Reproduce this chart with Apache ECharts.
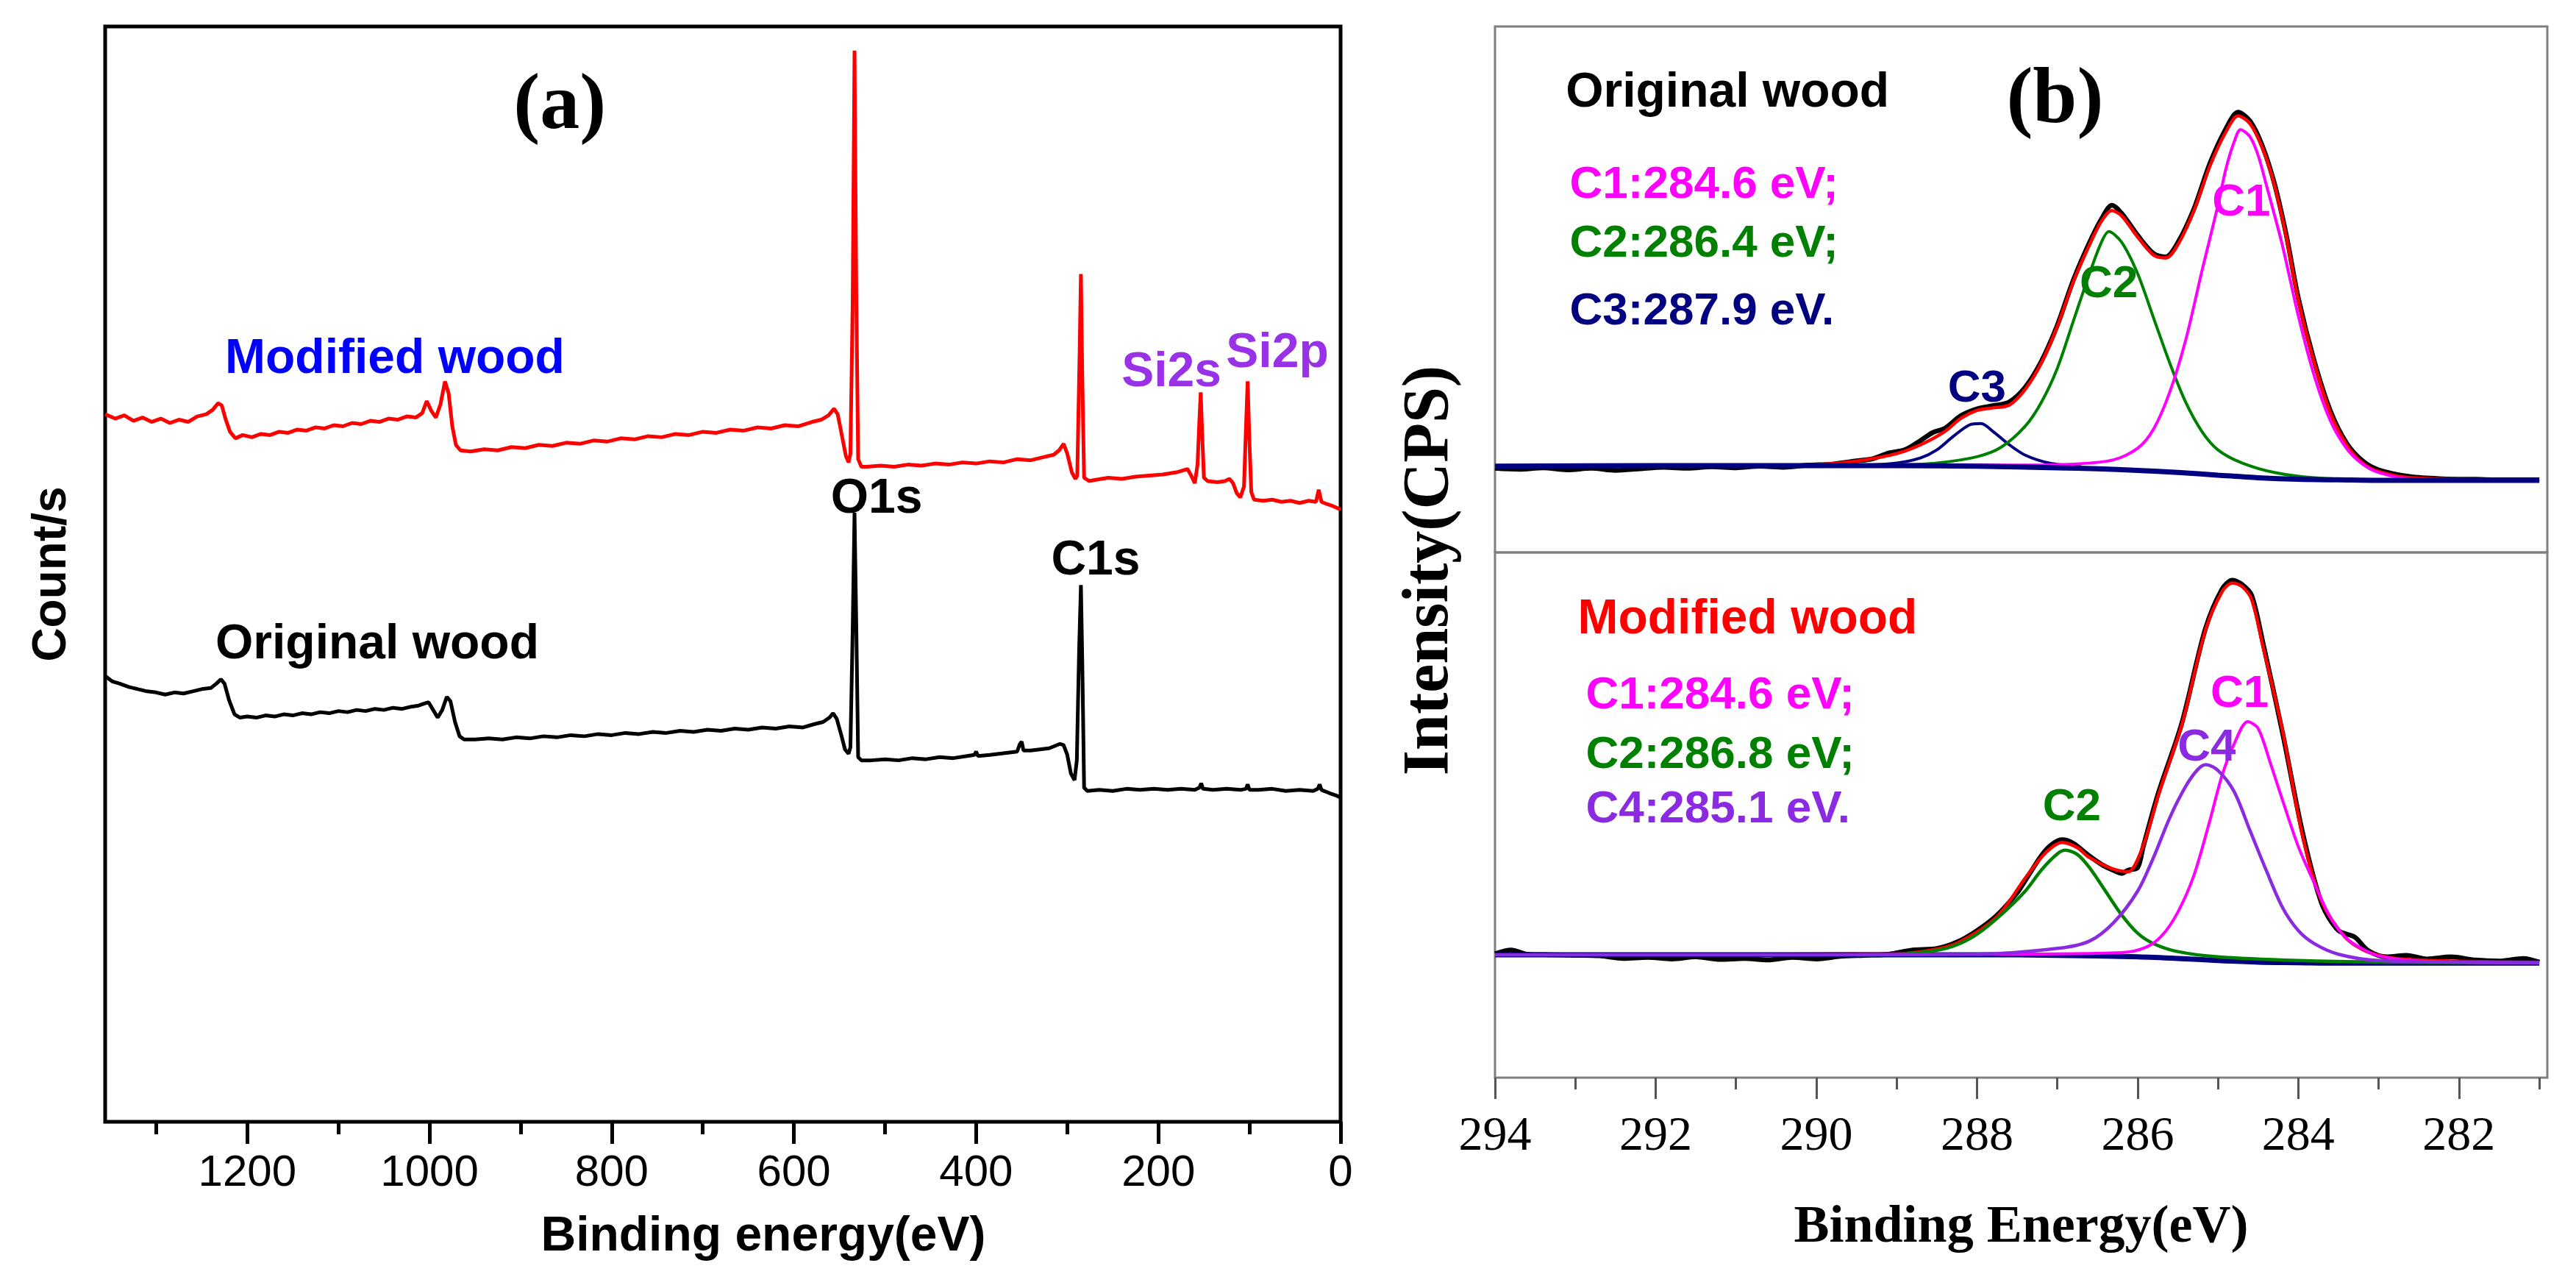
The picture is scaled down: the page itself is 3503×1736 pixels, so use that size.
<!DOCTYPE html>
<html>
<head>
<meta charset="utf-8">
<script src="https://cdn.jsdelivr.net/npm/echarts@6/dist/echarts.min.js"></script>
<style>
html,body{margin:0;padding:0;background:#fff;}
#chart{width:3503px;height:1736px;}
</style>
</head>
<body>
<div id="chart"></div>
<script>
// ---------------- DATA ----------------
// Panel (a): XPS survey spectra, [binding energy (eV), counts (a.u.)]
const surveyModified = [
[1356,64.6],[1345,64.2],[1335,64.5],[1325,64.0],[1315,64.3],[1305,63.9],[1295,64.2],[1285,63.8],[1275,64.1],[1265,63.9],[1255,64.4],[1245,64.6],[1238,65.0],[1232,65.6],[1228,65.4],[1224,64.2],[1219,63.0],[1213,62.4],[1205,62.7],[1195,62.5],[1185,62.8],[1175,62.7],[1165,63.0],[1155,62.9],[1145,63.2],[1135,63.1],[1125,63.4],[1115,63.3],[1105,63.6],[1095,63.5],[1085,63.8],[1075,63.7],[1065,64.0],[1055,63.9],[1045,64.2],[1035,64.1],[1025,64.4],[1015,64.3],[1008,64.7],[1003,65.8],[998,64.9],[993,64.3],[988,65.5],[983,67.6],[979,66.5],[975,63.5],[971,61.8],[966,61.3],[955,61.2],[940,61.4],[925,61.3],[910,61.6],[895,61.5],[880,61.8],[865,61.7],[850,62.0],[835,61.9],[820,62.2],[805,62.1],[790,62.4],[775,62.3],[760,62.6],[745,62.5],[730,62.8],[715,62.7],[700,63.0],[685,62.9],[670,63.2],[655,63.1],[640,63.4],[625,63.3],[610,63.6],[595,63.5],[580,63.9],[570,64.1],[562,64.5],[556,65.1],[552,64.6],[547,62.5],[543,60.8],[540,60.2],[538,61.0],[535.5,75.0],[533.5,97.8],[531.5,75.0],[529.5,60.5],[526,59.8],[520,59.8],[505,59.9],[490,59.8],[475,60.0],[460,59.9],[445,60.1],[430,60.0],[415,60.2],[400,60.1],[385,60.3],[370,60.2],[355,60.5],[340,60.4],[325,60.7],[315,60.9],[309,61.3],[304,61.9],[300,61.0],[295,59.3],[291,58.7],[289,59.0],[286.5,70.0],[285,77.4],[283.5,68.0],[281.5,58.8],[276,58.5],[270,58.6],[255,58.8],[240,58.7],[225,58.9],[210,59.0],[195,59.1],[180,59.3],[172,59.5],[168,59.6],[164,59.0],[160,58.3],[157,60.0],[155,64.0],[153.5,66.6],[152,63.0],[150,58.8],[146,58.5],[135,58.4],[127,58.5],[122,58.7],[118,58.3],[114,57.4],[110,57.0],[106,58.0],[104,63.0],[102,67.6],[100,62.0],[98,57.5],[95,56.8],[85,56.7],[75,56.8],[65,56.6],[55,56.7],[45,56.5],[35,56.7],[27,56.6],[24,57.7],[21,56.6],[15,56.4],[8,56.2],[0,55.9]
];
const surveyOriginal = [
[1356,40.7],[1348,40.2],[1340,40.0],[1330,39.7],[1320,39.5],[1310,39.3],[1300,39.2],[1290,39.0],[1280,39.2],[1270,39.1],[1260,39.3],[1250,39.5],[1240,39.6],[1234,40.0],[1229,40.4],[1225,40.0],[1220,38.5],[1214,37.2],[1208,36.9],[1200,37.0],[1190,36.9],[1180,37.1],[1170,37.0],[1160,37.2],[1150,37.1],[1140,37.3],[1130,37.2],[1120,37.4],[1110,37.3],[1100,37.5],[1090,37.4],[1080,37.6],[1070,37.5],[1060,37.7],[1050,37.6],[1040,37.8],[1030,37.7],[1020,37.9],[1012,38.0],[1005,38.2],[1001,38.3],[996,37.6],[991,36.9],[986,37.6],[981,38.8],[977,38.4],[972,36.5],[967,35.2],[962,34.9],[950,34.9],[935,35.0],[920,34.9],[905,35.1],[890,35.0],[875,35.2],[860,35.1],[845,35.3],[830,35.2],[815,35.4],[800,35.3],[785,35.5],[770,35.4],[755,35.6],[740,35.5],[725,35.7],[710,35.6],[695,35.8],[680,35.7],[665,35.9],[650,35.8],[635,36.0],[620,35.9],[605,36.1],[590,36.0],[578,36.3],[568,36.5],[561,36.9],[557,37.3],[553,36.8],[548,35.3],[544,34.0],[540,33.6],[538,34.2],[535.5,45.0],[533.5,55.6],[531.5,45.0],[529.5,33.3],[526,33.0],[515,33.0],[500,33.1],[485,33.0],[470,33.2],[455,33.1],[440,33.3],[425,33.2],[410,33.4],[402,33.5],[400,33.8],[398,33.4],[385,33.5],[375,33.6],[365,33.7],[355,33.8],[352,34.5],[350,34.7],[348,33.9],[340,33.9],[330,34.0],[320,34.1],[314,34.3],[308,34.5],[304,34.4],[300,33.5],[296,31.8],[292,31.2],[289.5,33.0],[287,43.0],[285,49.0],[283.5,42.0],[281.5,30.5],[278,30.2],[265,30.3],[250,30.2],[235,30.4],[220,30.3],[205,30.4],[190,30.3],[175,30.4],[160,30.3],[155,30.5],[153,30.9],[151,30.4],[140,30.3],[125,30.4],[110,30.3],[104,30.4],[102,30.8],[100,30.3],[90,30.3],[75,30.4],[60,30.2],[45,30.3],[30,30.2],[25,30.4],[23,30.8],[21,30.3],[12,30.0],[5,29.8],[0,29.6]
];
const surveyMajorTicks = [0,200,400,600,800,1000,1200];
const surveyMinorTicks = [100,300,500,700,900,1100,1300];

// Panel (b), top: C1s high resolution, original wood
const origRaw = [
[294,16.0],[293.7,15.8],[293.4,16.1],[293.1,15.7],[292.8,16.0],[292.5,15.6],[292.2,15.9],[291.9,16.2],[291.6,16.0],[291.3,16.3],[291.0,16.1],[290.7,16.4],[290.4,16.2],[290.1,16.6],[289.8,16.8],[289.5,17.4],[289.3,17.8],[289.1,18.9],[288.9,19.5],[288.7,21.3],[288.55,22.8],[288.4,23.6],[288.2,26.0],[288.0,27.3],[287.8,27.9],[287.6,28.6],[287.4,31.4],[287.2,36.3],[287.0,43.2],[286.8,51.8],[286.6,58.9],[286.45,63.4],[286.32,66.0],[286.2,64.5],[286.0,60.3],[285.8,56.8],[285.65,56.2],[285.5,58.9],[285.3,65.3],[285.1,74.0],[284.9,80.6],[284.75,83.7],[284.6,82.0],[284.45,77.4],[284.3,70.3],[284.15,60.4],[284.0,48.4],[283.8,36.3],[283.6,26.9],[283.4,20.8],[283.2,17.4],[283.0,15.7],[282.6,14.4],[282.2,14.0],[281.8,13.9],[281.4,13.8],[281.0,13.8]
];
const origFit = [
[294,16.4],[290.5,16.5],[289.8,16.9],[289.4,17.6],[289.0,18.8],[288.7,20.5],[288.4,23.0],[288.2,25.5],[288.0,27.0],[287.8,27.5],[287.6,28.0],[287.4,31.0],[287.2,36.0],[287.0,43.0],[286.8,51.5],[286.6,58.5],[286.45,63.0],[286.32,65.0],[286.2,64.0],[286.0,60.0],[285.8,56.5],[285.65,56.0],[285.5,58.5],[285.3,65.0],[285.1,73.5],[284.9,80.0],[284.75,83.0],[284.6,81.5],[284.45,77.0],[284.3,70.0],[284.15,60.0],[284.0,48.0],[283.8,36.0],[283.6,26.5],[283.4,20.5],[283.2,17.0],[283.0,15.4],[282.6,14.2],[281.0,13.8]
];
const origC1 = [
[289.0,16.7],[287.5,16.6],[286.8,16.8],[286.3,17.6],[286.0,19.8],[285.8,23.5],[285.6,30.5],[285.4,40.5],[285.2,53.5],[285.0,66.0],[284.9,73.0],[284.8,78.0],[284.72,80.4],[284.6,79.0],[284.5,75.5],[284.4,70.0],[284.2,58.5],[284.0,45.0],[283.8,33.5],[283.6,25.0],[283.4,19.8],[283.2,16.8],[283.0,15.2],[282.6,14.0],[281.0,13.7]
];
const origC2 = [
[289.0,16.6],[288.5,17.0],[288.0,18.2],[287.7,20.0],[287.4,24.0],[287.2,28.5],[287.0,35.0],[286.8,44.0],[286.6,53.0],[286.45,59.0],[286.36,61.0],[286.2,59.0],[286.0,53.0],[285.8,44.5],[285.6,36.0],[285.4,28.5],[285.2,23.0],[285.0,19.5],[284.7,17.0],[284.3,15.2],[283.8,14.2],[283.0,13.8],[281.0,13.7]
];
const origC3 = [
[289.5,16.5],[289.0,17.0],[288.7,18.0],[288.5,19.5],[288.3,22.0],[288.1,24.2],[287.95,24.5],[287.8,23.0],[287.6,20.5],[287.4,18.5],[287.1,17.0],[286.7,16.3]
];
const origBg = [
[294,16.4],[292,16.5],[290,16.5],[289,16.5],[288,16.4],[287,16.1],[286.5,15.9],[286,15.6],[285.5,15.2],[285,14.7],[284.5,14.2],[284,13.9],[283.5,13.8],[283,13.7],[281,13.7]
];

// Panel (b), bottom: C1s high resolution, modified wood
const modRaw = [
[294,23.6],[293.8,24.3],[293.6,23.5],[293.3,23.4],[293.0,23.3],[292.7,23.2],[292.4,22.7],[292.1,22.9],[291.8,22.6],[291.5,23.0],[291.2,22.5],[290.9,22.7],[290.6,22.4],[290.3,22.9],[290.0,22.6],[289.7,23.1],[289.4,23.3],[289.1,23.5],[288.8,24.3],[288.5,24.6],[288.25,25.8],[288.0,28.0],[287.76,30.8],[287.5,35.2],[287.38,38.0],[287.14,43.4],[286.94,45.3],[286.8,44.6],[286.61,42.3],[286.45,40.6],[286.32,39.6],[286.2,38.9],[286.12,39.5],[286.0,40.0],[285.93,44.0],[285.74,54.3],[285.45,67.5],[285.16,85.3],[284.95,93.0],[284.82,94.7],[284.7,93.9],[284.58,91.8],[284.44,82.8],[284.19,65.2],[283.95,46.9],[283.71,33.2],[283.5,28.0],[283.3,26.8],[283.13,24.2],[282.9,23.0],[282.65,23.3],[282.4,22.6],[282.1,23.0],[281.8,22.4],[281.5,22.2],[281.2,22.7],[281.0,22.0]
];
const modFit = [
[294,23.4],[289.0,23.6],[288.6,24.2],[288.25,25.6],[287.76,30.5],[287.38,38.4],[287.14,42.9],[286.94,44.8],[286.75,43.8],[286.61,42.0],[286.32,39.8],[286.12,39.2],[285.93,44.2],[285.74,53.9],[285.45,67.2],[285.16,85.0],[284.95,92.5],[284.82,94.2],[284.7,93.5],[284.58,91.0],[284.44,82.1],[284.19,65.6],[283.95,46.2],[283.71,33.6],[283.42,26.8],[283.13,23.9],[282.65,22.5],[281.0,22.0]
];
const modC1 = [
[288.0,23.5],[286.2,23.8],[285.9,24.8],[285.7,27.0],[285.5,31.5],[285.3,38.5],[285.1,49.0],[284.95,57.5],[284.8,63.5],[284.63,67.8],[284.5,66.5],[284.35,60.0],[284.2,53.0],[284.0,44.0],[283.8,37.0],[283.6,30.5],[283.4,26.5],[283.2,24.5],[283.0,23.2],[282.5,22.2],[281.0,21.9]
];
const modC2 = [
[289.5,23.4],[289.0,23.5],[288.6,24.0],[288.3,25.0],[288.0,27.3],[287.7,31.0],[287.4,35.5],[287.2,39.5],[287.0,42.6],[286.9,43.3],[286.75,42.5],[286.6,40.0],[286.4,35.5],[286.2,31.0],[286.0,27.5],[285.8,25.5],[285.5,24.0],[285.0,23.0],[284.0,22.3],[283.0,22.0],[281.0,21.9]
];
const modC4 = [
[294,23.4],[290,23.4],[288.0,23.5],[287.0,24.6],[286.6,26.0],[286.3,29.5],[286.0,35.5],[285.8,42.0],[285.6,49.5],[285.4,55.5],[285.25,58.7],[285.15,59.6],[285.0,58.5],[284.8,54.5],[284.6,47.0],[284.4,39.5],[284.2,32.5],[284.0,28.0],[283.8,25.5],[283.5,23.5],[283.0,22.3],[281.0,21.9]
];
const modBg = [
[294,23.4],[292,23.4],[290,23.4],[288,23.4],[287,23.3],[286,23.0],[285.5,22.7],[285,22.3],[284.5,22.0],[284,21.9],[283.5,21.8],[281,21.8]
];
const hrMajorTicks = [282,284,286,288,290,292,294];
const hrMinorTicks = [281,283,285,287,289,291,293];

// ---------------- CHART ----------------
const SANS = '"Liberation Sans", Arial, sans-serif';
const SERIF = '"Liberation Serif", "Times New Roman", serif';
const C_RED = '#ff0000', C_MAG = '#ff00ff', C_GRN = '#008000', C_NAVY = '#000080', C_PUR = '#8a2be2', C_SI = '#9932e6';

const chart = echarts.init(document.getElementById('chart'), null, {renderer: 'canvas'});

function line(data, color, width, xi, yi, smooth, z) {
  return {type: 'line', data: data, xAxisIndex: xi, yAxisIndex: yi, showSymbol: false, symbol: 'none',
    smooth: smooth, lineStyle: {color: color, width: width}, z: z, silent: true, animation: false};
}
const plainNum = function (v) { return String(v); };

const option = {
  animation: false,
  backgroundColor: '#fff',
  grid: [
    {left: 143, top: 36, width: 1680, height: 1489, show: true, borderColor: '#000', borderWidth: 5, backgroundColor: 'transparent'},
    {left: 2033, top: 36, width: 1431, height: 715, show: true, borderColor: '#7f7f7f', borderWidth: 3, backgroundColor: 'transparent'},
    {left: 2033, top: 751, width: 1431, height: 714, show: true, borderColor: '#7f7f7f', borderWidth: 3, backgroundColor: 'transparent'}
  ],
  xAxis: [
    {gridIndex: 0, type: 'value', inverse: true, min: 0, max: 1356, position: 'bottom',
     axisLine: {show: false}, splitLine: {show: false},
     axisTick: {show: true, inside: false, length: 30, customValues: surveyMajorTicks, lineStyle: {color: '#000', width: 5}},
     axisLabel: {show: true, customValues: surveyMajorTicks, formatter: plainNum, margin: 40, color: '#000', fontFamily: SANS, fontSize: 60},
     name: 'Binding energy(eV)', nameLocation: 'middle', nameGap: 124,
     nameTextStyle: {fontFamily: SANS, fontWeight: 'bold', fontSize: 66, color: '#000', padding: [0, 0, 0, 110]}},
    {gridIndex: 0, type: 'value', inverse: true, min: 0, max: 1356, position: 'bottom',
     axisLine: {show: false}, splitLine: {show: false},
     axisTick: {show: true, inside: false, length: 17, customValues: surveyMinorTicks, lineStyle: {color: '#000', width: 5}},
     axisLabel: {show: false}},
    {gridIndex: 1, type: 'value', inverse: true, min: 280.9, max: 294, show: false},
    {gridIndex: 2, type: 'value', inverse: true, min: 280.9, max: 294, position: 'bottom',
     axisLine: {show: false}, splitLine: {show: false},
     axisTick: {show: true, inside: false, length: 29, customValues: hrMajorTicks, lineStyle: {color: '#555', width: 3}},
     axisLabel: {show: true, customValues: hrMajorTicks, formatter: plainNum, margin: 48, color: '#000', fontFamily: SERIF, fontSize: 66},
     name: 'Binding Energy(eV)', nameLocation: 'middle', nameGap: 168,
     nameTextStyle: {fontFamily: SERIF, fontWeight: 'bold', fontSize: 72, color: '#000'}},
    {gridIndex: 2, type: 'value', inverse: true, min: 280.9, max: 294, position: 'bottom',
     axisLine: {show: false}, splitLine: {show: false},
     axisTick: {show: true, inside: false, length: 16, customValues: hrMinorTicks, lineStyle: {color: '#555', width: 3}},
     axisLabel: {show: false}}
  ],
  yAxis: [
    {gridIndex: 0, type: 'value', min: 0, max: 100, axisLine: {show: false}, axisTick: {show: false},
     axisLabel: {show: false}, splitLine: {show: false},
     name: 'Count/s', nameLocation: 'middle', nameGap: 40,
     nameTextStyle: {fontFamily: SANS, fontWeight: 'bold', fontSize: 64, color: '#000'}},
    {gridIndex: 1, type: 'value', min: 0, max: 100, show: false},
    {gridIndex: 2, type: 'value', min: 0, max: 100, show: false}
  ],
  series: [
    line(surveyOriginal, '#000', 5, 0, 0, false, 2),
    line(surveyModified, C_RED, 5, 0, 0, false, 3),
    // upper (original wood)
    line(origRaw, '#000', 6.5, 2, 1, 0.3, 2),
    line(origFit, C_RED, 4.5, 2, 1, 0.3, 3),
    line(origC3, C_NAVY, 4, 2, 1, 0.3, 4),
    line(origC2, C_GRN, 4, 2, 1, 0.3, 4),
    line(origC1, C_MAG, 4, 2, 1, 0.3, 4),
    line(origBg, C_NAVY, 7, 2, 1, 0.3, 5),
    // lower (modified wood)
    line(modRaw, '#000', 6.5, 3, 2, 0.3, 2),
    line(modFit, C_RED, 4.5, 3, 2, 0.3, 3),
    line(modBg, C_NAVY, 7, 3, 2, 0.3, 4),
    line(modC2, C_GRN, 4.5, 3, 2, 0.3, 5),
    line(modC1, C_MAG, 4, 3, 2, 0.3, 5),
    line(modC4, C_PUR, 4.5, 3, 2, 0.3, 6)
  ]
};
chart.setOption(option);

// ---------- annotations, anchored in data coordinates ----------
const annotations = [
  // [seriesIndex (for coordinate system), text, x, y, align, color, font]
  [0, '(a)', 857, 92.6, 'center', '#000', 'bold 108px ' + SERIF],
  [0, 'Modified wood', 1038, 69.6, 'center', '#0000ff', 'bold 66px ' + SANS],
  [0, 'Si2s', 185.6, 68.4, 'center', C_SI, 'bold 66px ' + SANS],
  [0, 'Si2p', 69.4, 70.1, 'center', C_SI, 'bold 66px ' + SANS],
  [0, 'O1s', 509.3, 56.8, 'center', '#000', 'bold 66px ' + SANS],
  [0, 'C1s', 268.8, 51.2, 'center', '#000', 'bold 66px ' + SANS],
  [0, 'Original wood', 1057.4, 43.5, 'center', '#000', 'bold 66px ' + SANS],
  [2, '(b)', 287.03, 85.7, 'center', '#000', 'bold 108px ' + SERIF],
  [2, 'Original wood', 293.12, 87.3, 'left', '#000', 'bold 66px ' + SANS],
  [2, 'C1:284.6 eV;', 293.07, 69.8, 'left', C_MAG, 'bold 62px ' + SANS],
  [2, 'C2:286.4 eV;', 293.07, 58.6, 'left', C_GRN, 'bold 62px ' + SANS],
  [2, 'C3:287.9 eV.', 293.07, 45.7, 'left', C_NAVY, 'bold 62px ' + SANS],
  [2, 'C1', 284.71, 66.4, 'center', C_MAG, 'bold 62px ' + SANS],
  [2, 'C2', 286.36, 50.9, 'center', C_GRN, 'bold 62px ' + SANS],
  [2, 'C3', 288.0, 31.0, 'center', C_NAVY, 'bold 62px ' + SANS],
  [8, 'Modified wood', 292.97, 87.1, 'left', C_RED, 'bold 66px ' + SANS],
  [8, 'C1:284.6 eV;', 292.87, 72.7, 'left', C_MAG, 'bold 62px ' + SANS],
  [8, 'C2:286.8 eV;', 292.87, 61.3, 'left', C_GRN, 'bold 62px ' + SANS],
  [8, 'C4:285.1 eV.', 292.87, 51.0, 'left', C_PUR, 'bold 62px ' + SANS],
  [8, 'C2', 286.82, 51.4, 'center', C_GRN, 'bold 62px ' + SANS],
  [8, 'C4', 285.14, 62.7, 'center', C_PUR, 'bold 62px ' + SANS],
  [8, 'C1', 284.73, 73.0, 'center', C_MAG, 'bold 62px ' + SANS]
];
const graphics = annotations.map(function (a) {
  const p = chart.convertToPixel({seriesIndex: a[0]}, [a[2], a[3]]);
  return {type: 'text', x: p[0], y: p[1], silent: true, z: 100,
    style: {text: a[1], font: a[6], fill: a[5], align: a[4], verticalAlign: 'middle',
            textAlign: a[4], textVerticalAlign: 'middle'}};
});
// shared y-axis title of panel (b)
const yTitlePos = chart.convertToPixel({seriesIndex: 8}, [294, 0]);
const upperTop = chart.convertToPixel({seriesIndex: 2}, [294, 100]);
graphics.push({type: 'text', x: yTitlePos[0] - 88, y: (upperTop[1] + yTitlePos[1]) / 2 + 25, rotation: Math.PI / 2, silent: true,
  style: {text: 'Intensity(CPS)', font: 'bold 88px ' + SERIF, fill: '#000', align: 'center', verticalAlign: 'middle',
          textAlign: 'center', textVerticalAlign: 'middle'}});
chart.setOption({graphic: graphics});
</script>
</body>
</html>
